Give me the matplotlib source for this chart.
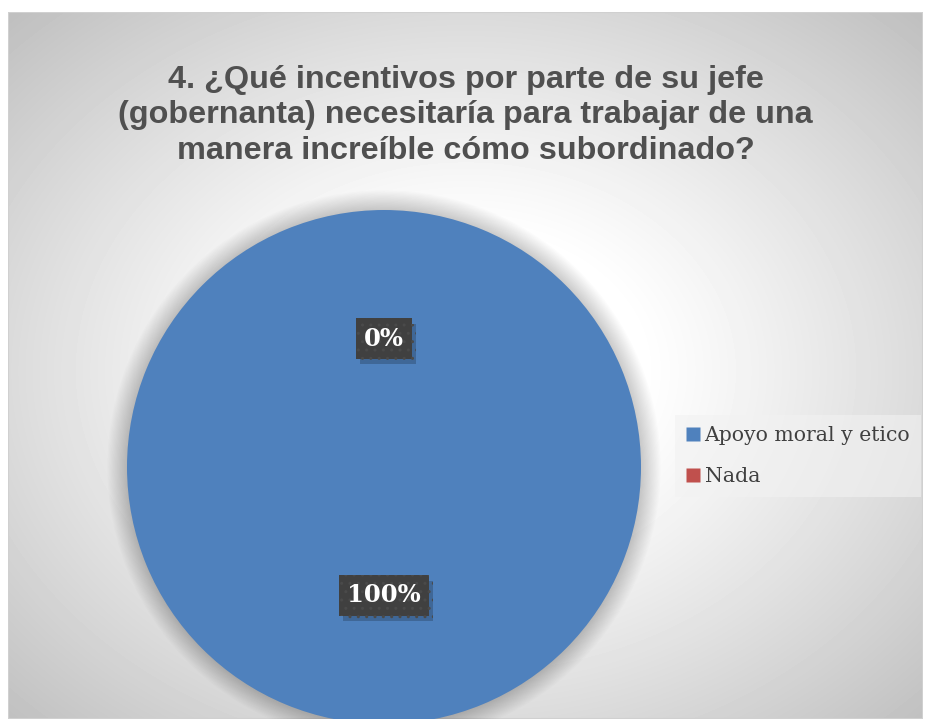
import numpy as np
import matplotlib
matplotlib.use("Agg")
import matplotlib.pyplot as plt
from matplotlib import patheffects
from matplotlib.patches import Circle, Rectangle
from matplotlib.lines import Line2D

# Survey answers
categories = ["Apoyo moral y etico", "Nada"]
values = [100, 0]
colors = ["#4F81BD", "#C0504D"]
title = ("4. ¿Qué incentivos por parte de su jefe\n"
         "(gobernanta) necesitaría para trabajar de una\n"
         "manera increíble cómo subordinado?")

W, H, DPI = 925, 719, 100
fig = plt.figure(figsize=(W / DPI, H / DPI), dpi=DPI, facecolor="white")

# Chart area with a soft radial grey gradient
bg_left, bg_bottom, bg_w, bg_h = 8, 0, 915, 707
bg = fig.add_axes([bg_left / W, bg_bottom / H, bg_w / W, bg_h / H])
yy, xx = np.mgrid[0:bg_h, 0:bg_w]
cx, cy = bg_w / 2, bg_h / 2 + 5
r = np.sqrt(((xx - cx) / (bg_w / 2)) ** 2 + ((yy - cy) / (bg_h / 2)) ** 2) / np.sqrt(2)
t = np.clip((r - 0.27) / 0.73, 0, 1)
v = 1.0 - 0.25 * t ** 1.1
bg.imshow(v, cmap="gray", vmin=0, vmax=1, extent=(0, 1, 0, 1),
          aspect="auto", interpolation="bilinear")
bg.set_xlim(0, 1)
bg.set_ylim(0, 1)
bg.axis("off")
bg.add_patch(Rectangle((0, 0), 1, 1, transform=bg.transAxes, fill=False,
                       edgecolor="#d0d0d0", linewidth=1.5))

# Title
fig.text((bg_left + bg_w / 2) / W, 1 - 65 / H, title, ha="center", va="top",
         fontsize=23.3, fontweight="bold", color="#505050",
         family="Liberation Sans", linespacing=1.23)

# Pie
R = 257
pcx, pcy = 384, 467
ax = fig.add_axes([(pcx - R) / W, (H - pcy - R) / H, 2 * R / W, 2 * R / H])
ax.set_zorder(2)
for i in range(18):
    ax.add_patch(Circle((0, 0), 1.0 + i * 0.0045, facecolor="black",
                        edgecolor="none", alpha=0.011, clip_on=False, zorder=0))

wedges, texts, autotexts = ax.pie(
    values, colors=colors, startangle=90, counterclock=False,
    autopct="%1.0f%%", pctdistance=0.5,
    wedgeprops=dict(linewidth=0, zorder=2),
    textprops=dict(color="white", fontweight="bold", fontsize=17.5,
                   family="DejaVu Serif"))
for w in wedges:
    w.set_clip_on(False)
for at in autotexts:
    at.set_zorder(5)
    at.set_bbox(dict(boxstyle="square,pad=0.33", facecolor="#404040",
                     edgecolor="#4a4a4a", linewidth=0, hatch=".."))
    at.get_bbox_patch().set_path_effects([
        patheffects.SimplePatchShadow(offset=(3, -4), shadow_rgbFace="black",
                                      alpha=0.2),
        patheffects.Normal()])
ax.set_xlim(-1, 1)
ax.set_ylim(-1, 1)
ax.set_aspect("equal")
ax.axis("off")

# Legend
handles = [Line2D([], [], marker="s", linestyle="none", markersize=10,
                  markerfacecolor=c, markeredgecolor="none") for c in colors]
leg = fig.legend(handles, categories, loc="upper left",
                 bbox_to_anchor=(675 / W, 1 - 415 / H), frameon=True,
                 prop=dict(family="DejaVu Serif", size=14.7),
                 labelcolor="#404040", handlelength=0.7, handletextpad=0.2,
                 labelspacing=1.05, borderpad=0.55, borderaxespad=0,
                 fancybox=False)
leg.get_frame().set_facecolor("#f2f2f2")
leg.get_frame().set_alpha(0.6)
leg.get_frame().set_linewidth(0)

fig.savefig("out.png", dpi=DPI, facecolor="white")
